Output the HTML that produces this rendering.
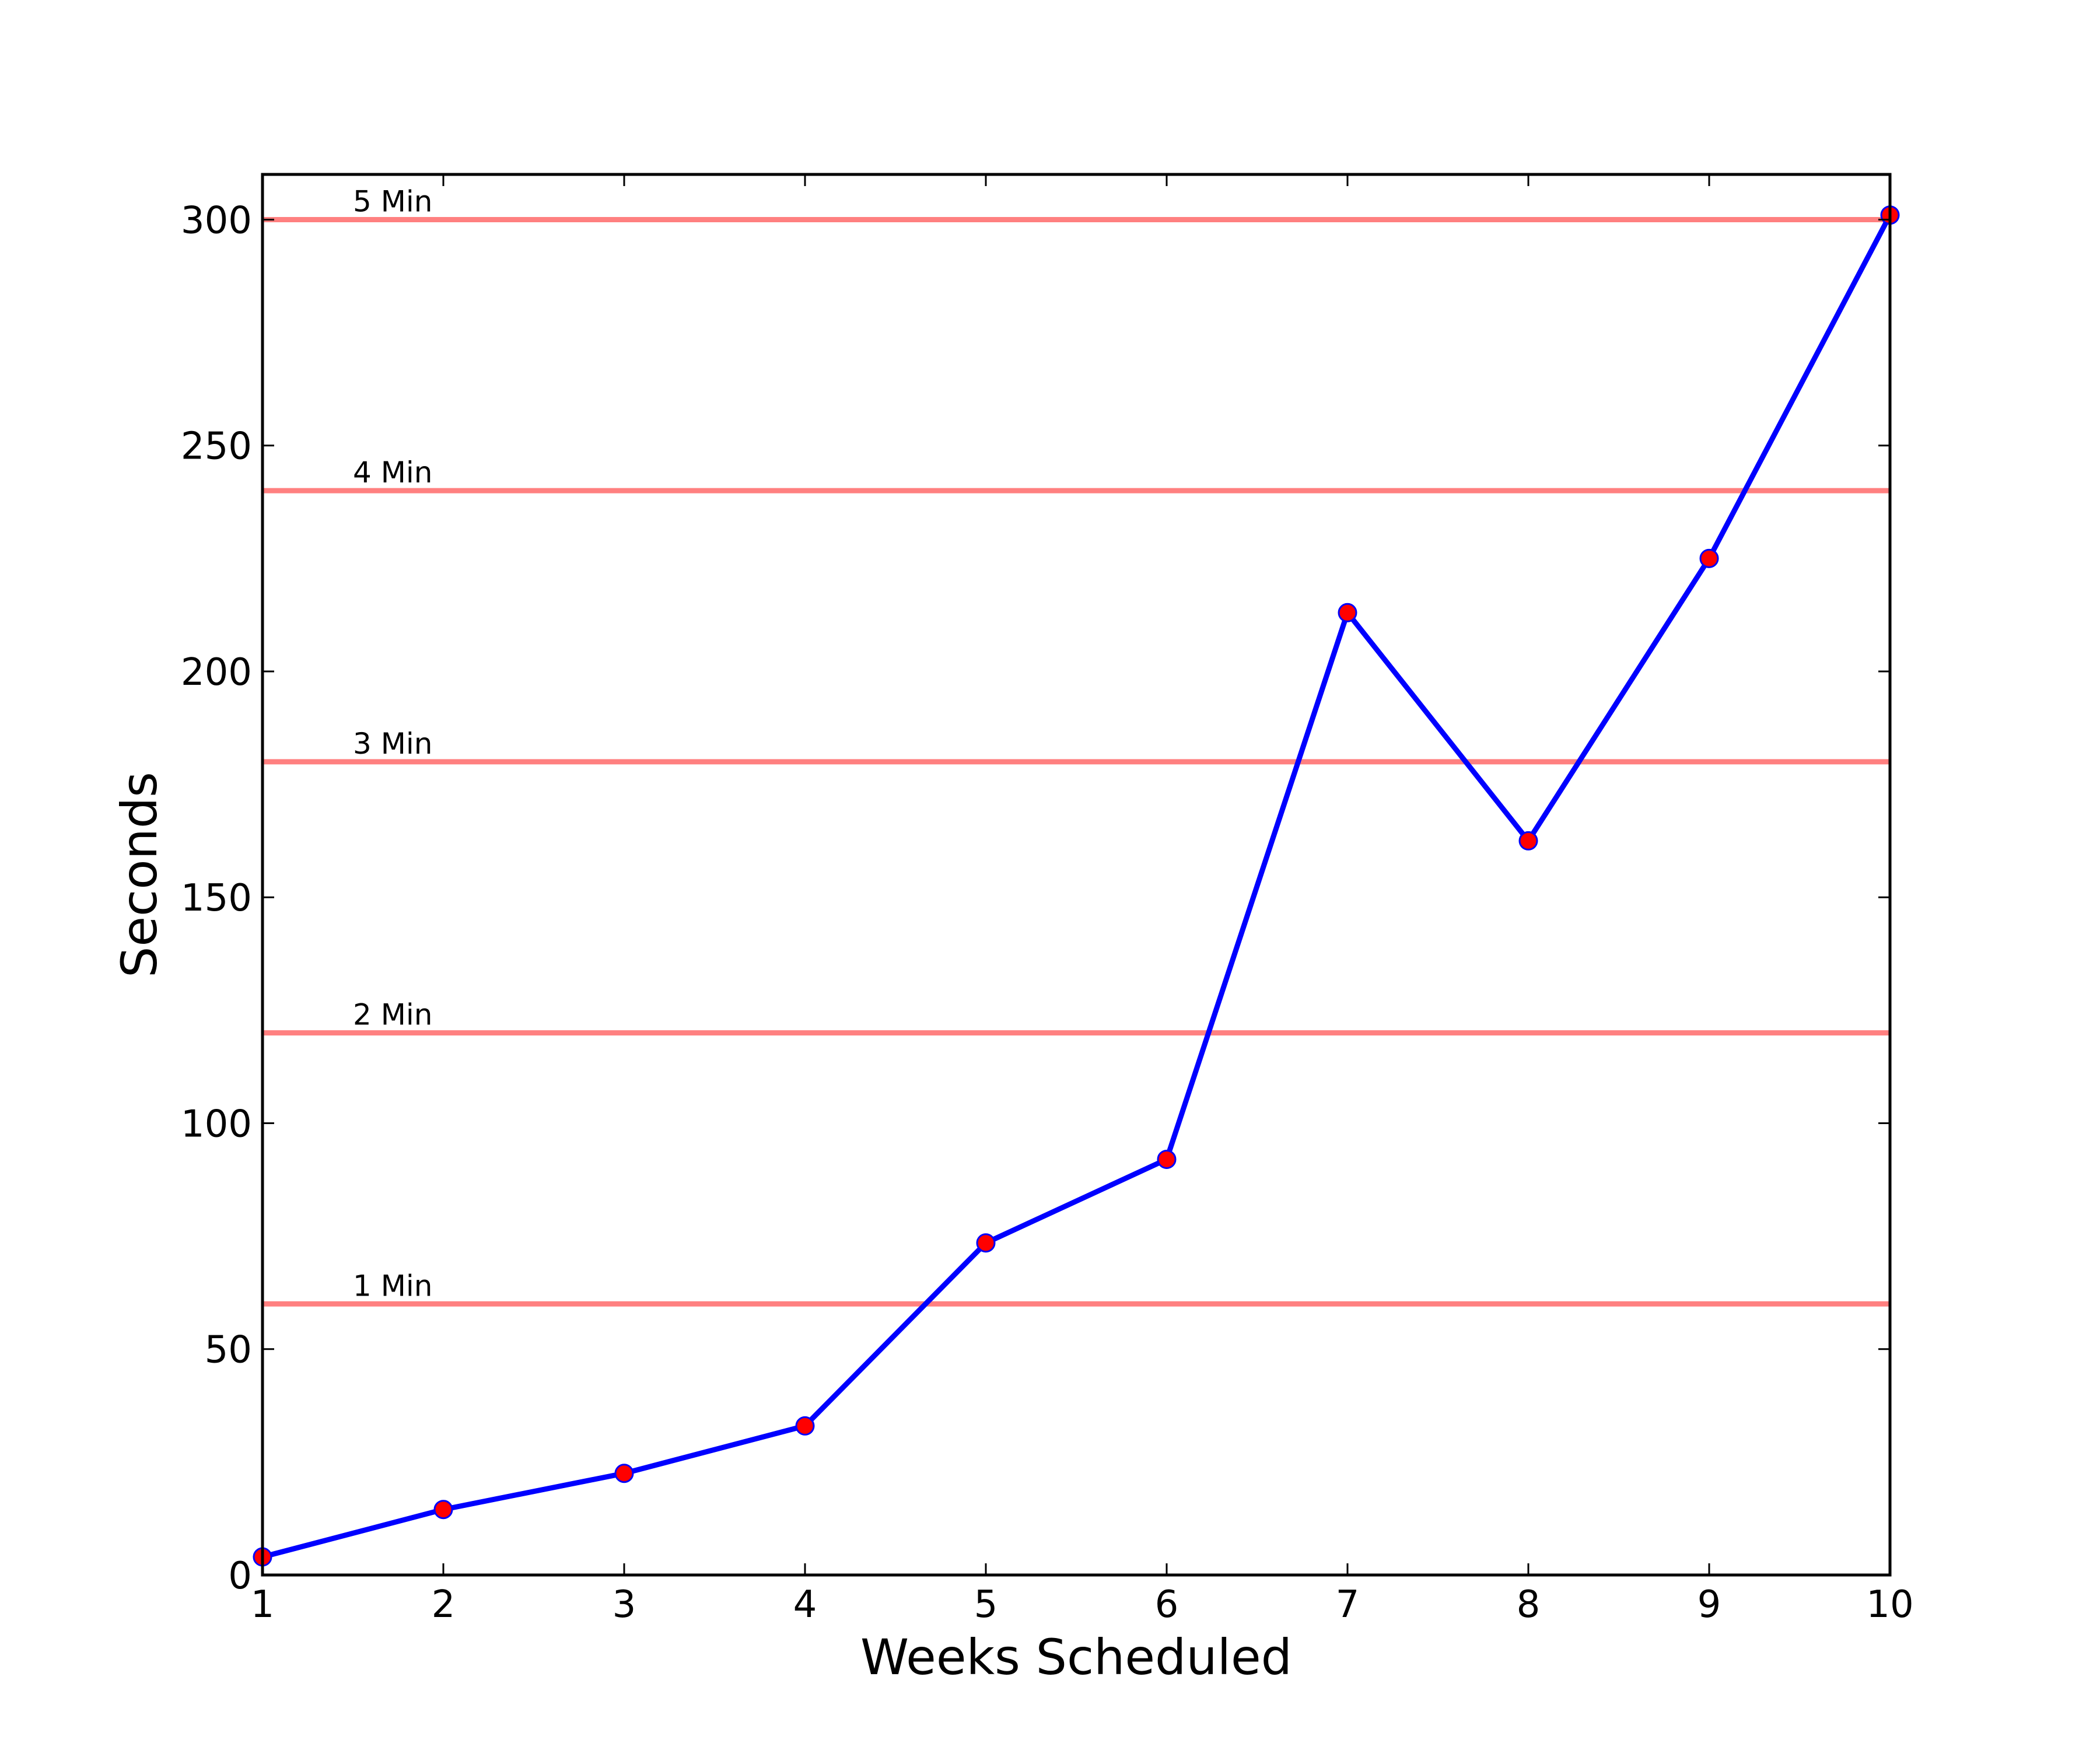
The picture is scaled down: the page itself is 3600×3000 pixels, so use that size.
<!DOCTYPE html>
<html><head><meta charset="utf-8"><style>body{margin:0;background:#fff}svg{display:block}text{font-family:"DejaVu Sans","Liberation Sans",sans-serif}</style></head>
<body>
<svg id="chart" width="3600" height="3000" xmlns="http://www.w3.org/2000/svg"></svg>
<script>
const weeks=[1,2,3,4,5,6,7,8,9,10];
const seconds=[4,14.5,22.5,33,73.5,92,213,162.5,225,301];
const refValues=[60,120,180,240,300];
const refLabels=["1 Min","2 Min","3 Min","4 Min","5 Min"];
const xTicks=[1,2,3,4,5,6,7,8,9,10];
const yTicks=[0,50,100,150,200,250,300];
const L=450,R=3240,T=299,B=2700,xmin=1,xmax=10,ymin=0,ymax=310;
const sx=v=>L+(v-xmin)/(xmax-xmin)*(R-L);
const sy=v=>B-(v-ymin)/(ymax-ymin)*(B-T);
const svg=document.getElementById('chart');const NS='http://www.w3.org/2000/svg';
function mk(t,a,txt){const e=document.createElementNS(NS,t);for(const k in a)e.setAttribute(k,a[k]);if(txt!==undefined)e.textContent=txt;svg.appendChild(e);return e;}
refValues.forEach((v,i)=>{
 let l=mk('line',{x1:L,x2:R,y1:sy(v),y2:sy(v),stroke:'#ff8080','stroke-width':9});
 
 
 let t=mk('text',{x:sx(1.5),y:sy(v)-14,'font-size':50},refLabels[i]);
 
 
});
let pts=weeks.map((w,i)=>sx(w)+','+sy(seconds[i])).join(' ');
let pl=mk('polyline',{points:pts,fill:'none',stroke:'#0000ff','stroke-width':9,'stroke-linejoin':'round'});


weeks.forEach((w,i)=>{
 let c=mk('circle',{cx:sx(w),cy:sy(seconds[i]),r:15,fill:'#ff0000',stroke:'#0000ff','stroke-width':3});
 
 
});
xTicks.forEach(v=>{
 mk('line',{x1:sx(v),x2:sx(v),y1:B,y2:B-20,stroke:'#000','stroke-width':3});
 mk('line',{x1:sx(v),x2:sx(v),y1:T,y2:T+20,stroke:'#000','stroke-width':3});
 let t=mk('text',{x:sx(v),y:B+72,'font-size':64,'text-anchor':'middle'},String(v));
 
 
});
yTicks.forEach(v=>{
 mk('line',{x1:L,x2:L+20,y1:sy(v),y2:sy(v),stroke:'#000','stroke-width':3});
 mk('line',{x1:R,x2:R-20,y1:sy(v),y2:sy(v),stroke:'#000','stroke-width':3});
 let t=mk('text',{x:L-18,y:sy(v)+23,'font-size':64,'text-anchor':'end'},String(v));
 
 
});
let fr=mk('rect',{x:L,y:T,width:R-L,height:B-T,fill:'none',stroke:'#000','stroke-width':5});


let xl=mk('text',{x:(L+R)/2,y:2870,'font-size':84,'text-anchor':'middle'},'Weeks Scheduled');


let yl=mk('text',{x:0,y:0,'font-size':84,'text-anchor':'middle',transform:'translate(268,'+((T+B)/2)+') rotate(-90)'},'Seconds');


</script>
</body></html>
